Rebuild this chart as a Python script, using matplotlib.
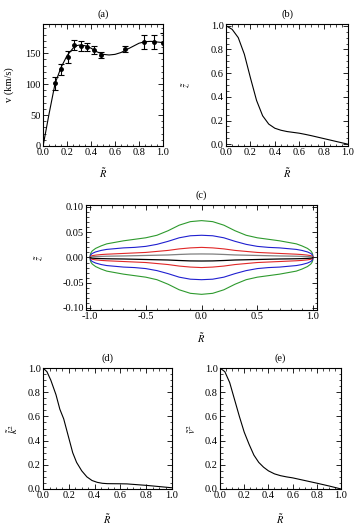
import matplotlib
matplotlib.use("Agg")
import matplotlib.pyplot as plt
from matplotlib.ticker import MultipleLocator, FormatStrFormatter

plt.rcParams['font.family'] = ['Liberation Serif', 'DejaVu Serif']
plt.rcParams['mathtext.fontset'] = 'stix'
plt.rcParams['axes.unicode_minus'] = True
fs = 7.5

# (a) rotation curve data
R_obs = [0.102, 0.152, 0.207, 0.26, 0.318, 0.37, 0.428, 0.483, 0.682, 0.843, 0.923, 1.0]
v_obs = [101, 124, 144, 163, 161, 160, 155, 147, 157, 168, 168, 167]
v_err = [10, 9, 10, 8, 8, 7, 7, 5, 5, 12, 12, 16]
R_fit = [0.0, 0.05, 0.1, 0.15, 0.2, 0.25, 0.28, 0.3, 0.35, 0.4, 0.45, 0.5, 0.55,
         0.6, 0.65, 0.7, 0.75, 0.8, 0.85, 0.9, 0.95, 1.0]
v_fit = [0, 52, 101, 127, 146, 158, 162, 163, 162, 158, 152, 148, 147,
         148, 151, 156, 161, 166, 168.5, 169, 168, 167]

# (b) z~ profile
R_b = [0.0, 0.05, 0.1, 0.15, 0.2, 0.25, 0.3, 0.35, 0.4, 0.45, 0.5, 0.55,
       0.6, 0.65, 0.7, 0.75, 0.8, 0.85, 0.9, 0.95, 1.0]
z_b = [1.0, 0.97, 0.9, 0.76, 0.56, 0.37, 0.24, 0.17, 0.135, 0.118, 0.107, 0.1,
       0.093, 0.083, 0.072, 0.06, 0.048, 0.036, 0.024, 0.012, 0.0]

# (c) contour half-thickness profiles
R_c = [0.0, 0.1, 0.2, 0.3, 0.4, 0.5, 0.6, 0.7, 0.8, 0.85, 0.9, 0.95, 0.98, 0.99, 0.997, 1.0]
h_green = [0.073, 0.071, 0.064, 0.053, 0.044, 0.039, 0.036, 0.033, 0.029, 0.027, 0.023, 0.018, 0.013, 0.010, 0.006, 0.0]
h_blue = [0.044, 0.043, 0.039, 0.032, 0.026, 0.022, 0.020, 0.019, 0.017, 0.016, 0.014, 0.011, 0.008, 0.006, 0.0035, 0.0]
h_red = [0.020, 0.019, 0.017, 0.014, 0.012, 0.010, 0.009, 0.008, 0.007, 0.0065, 0.0058, 0.0047, 0.0036, 0.0028, 0.0017, 0.0]
h_gray = [0.007, 0.0068, 0.006, 0.005, 0.0045, 0.004, 0.0035, 0.003, 0.0027, 0.0025, 0.0022, 0.0018, 0.0014, 0.0011, 0.0007, 0.0]

# (d) k~^2 profile
R_d = [0.0, 0.03, 0.06, 0.1, 0.13, 0.16, 0.2, 0.23, 0.26, 0.3, 0.34, 0.38, 0.42,
       0.46, 0.5, 0.6, 0.65, 0.7, 0.8, 0.9, 1.0]
k_d = [1.0, 0.97, 0.9, 0.78, 0.66, 0.58, 0.42, 0.3, 0.22, 0.15, 0.1, 0.07, 0.055,
       0.047, 0.044, 0.043, 0.042, 0.038, 0.03, 0.02, 0.01]

# (e) v~^2 profile
R_e = [0.0, 0.04, 0.08, 0.12, 0.16, 0.2, 0.24, 0.28, 0.32, 0.36, 0.4, 0.45, 0.5,
       0.55, 0.6, 0.7, 0.8, 0.9, 1.0]
v_e = [1.0, 0.97, 0.88, 0.74, 0.6, 0.47, 0.37, 0.28, 0.22, 0.18, 0.15, 0.125, 0.11,
       0.1, 0.092, 0.07, 0.048, 0.025, 0.0]


def style(ax, xmaj, xmin, ymaj, ymin, xfmt, yfmt):
    ax.xaxis.set_major_locator(MultipleLocator(xmaj))
    ax.xaxis.set_minor_locator(MultipleLocator(xmin))
    ax.yaxis.set_major_locator(MultipleLocator(ymaj))
    ax.yaxis.set_minor_locator(MultipleLocator(ymin))
    ax.xaxis.set_major_formatter(FormatStrFormatter(xfmt))
    ax.yaxis.set_major_formatter(FormatStrFormatter(yfmt))
    ax.tick_params(which='both', direction='in', top=True, right=True,
                   labelsize=fs, colors='black', pad=1.5)
    ax.tick_params(which='major', length=3.5, width=0.6)
    ax.tick_params(which='minor', length=1.8, width=0.5)
    for s in ax.spines.values():
        s.set_linewidth(0.8)


fig = plt.figure(figsize=(3.56, 5.28), dpi=100)

# (a)
ax = fig.add_axes([0.121, 0.7235, 0.337, 0.231])
ax.plot(R_fit, v_fit, color='black', lw=0.8)
ax.errorbar(R_obs, v_obs, yerr=v_err, fmt='o', color='black', ms=2.5,
            capsize=2, elinewidth=0.8, capthick=0.8, clip_on=True)
ax.set_xlim(0, 1)
ax.set_ylim(0, 197)
style(ax, 0.2, 0.05, 50, 10, '%.1f', '%d')
ax.set_title('(a)', fontsize=fs, pad=5)
ax.set_ylabel('v (km/s)', fontsize=fs)
ax.yaxis.set_label_coords(-0.24, 0.5)
ax.set_xlabel(r'$\tilde{R}$', fontsize=fs)
ax.xaxis.set_label_coords(0.5, -0.165)

# (b)
ax = fig.add_axes([0.635, 0.7235, 0.3425, 0.231])
ax.plot(R_b, z_b, color='black', lw=0.8)
ax.set_xlim(0, 1)
ax.set_ylim(-0.015, 1.015)
style(ax, 0.2, 0.05, 0.2, 0.05, '%.1f', '%.1f')
ax.set_title('(b)', fontsize=fs, pad=5)
ax.set_ylabel(r'$\tilde{z}$', fontsize=fs)
ax.yaxis.set_label_coords(-0.27, 0.5)
ax.set_xlabel(r'$\tilde{R}$', fontsize=fs)
ax.xaxis.set_label_coords(0.5, -0.165)

# (c)
ax = fig.add_axes([0.2416, 0.4129, 0.649, 0.1989])
R_full = [-r for r in R_c[::-1]] + R_c[1:]
for h, col in [(h_green, '#2e9a2e'), (h_blue, '#2020d0'), (h_red, '#e02828')]:
    h_full = h[::-1] + h[1:]
    ax.plot(R_full, h_full, color=col, lw=0.8)
    ax.plot(R_full, [-v for v in h_full], color=col, lw=0.8)
hg_full = h_gray[::-1] + h_gray[1:]
ax.plot(R_full, hg_full, color='#808080', lw=0.9)
ax.plot(R_full, [-v for v in hg_full], color='black', lw=0.9)
ax.set_xlim(-1.036, 1.036)
ax.set_ylim(-0.104, 0.104)
style(ax, 0.5, 0.1, 0.05, 0.01, '%.1f', '%.2f')
ax.set_title('(c)', fontsize=fs, pad=5)
ax.set_ylabel(r'$\tilde{z}$', fontsize=fs)
ax.yaxis.set_label_coords(-0.173, 0.5)
ax.set_xlabel(r'$\tilde{R}$', fontsize=fs)
ax.xaxis.set_label_coords(0.5, -0.2)

# (d)
ax = fig.add_axes([0.121, 0.0739, 0.362, 0.229])
ax.plot(R_d, k_d, color='black', lw=0.8)
ax.set_xlim(0, 1)
ax.set_ylim(0, 1.0)
style(ax, 0.2, 0.05, 0.2, 0.05, '%.1f', '%.1f')
ax.set_title('(d)', fontsize=fs, pad=5)
ax.set_ylabel(r'$\tilde{k}^2$', fontsize=fs)
ax.yaxis.set_label_coords(-0.178, 0.5)
ax.set_xlabel(r'$\tilde{R}$', fontsize=fs)
ax.xaxis.set_label_coords(0.5, -0.19)

# (e)
ax = fig.add_axes([0.618, 0.0739, 0.340, 0.229])
ax.plot(R_e, v_e, color='black', lw=0.8)
ax.set_xlim(0, 1)
ax.set_ylim(0, 1.0)
style(ax, 0.2, 0.05, 0.2, 0.05, '%.1f', '%.1f')
ax.set_title('(e)', fontsize=fs, pad=5)
ax.set_ylabel(r'$\tilde{v}^2$', fontsize=fs)
ax.yaxis.set_label_coords(-0.18, 0.5)
ax.set_xlabel(r'$\tilde{R}$', fontsize=fs)
ax.xaxis.set_label_coords(0.5, -0.19)

fig.savefig('out.png', dpi=100)
